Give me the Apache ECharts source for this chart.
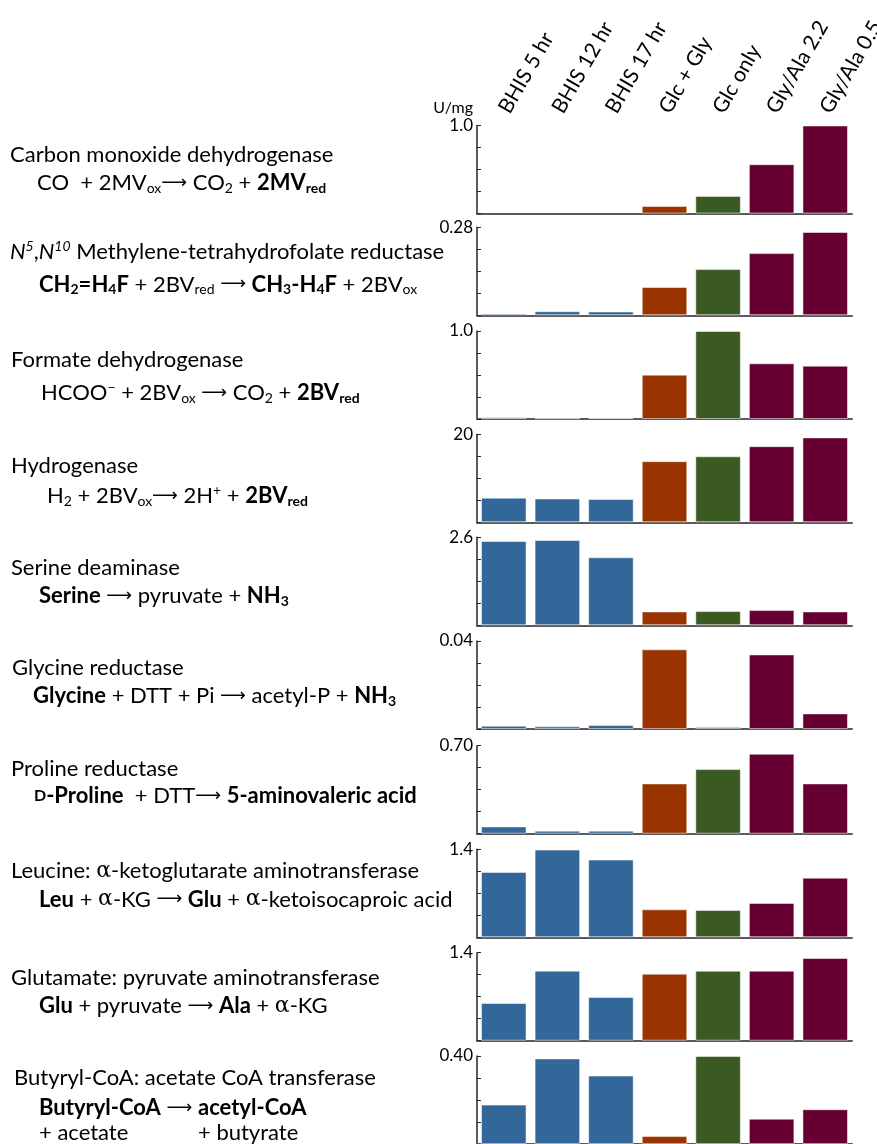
<!DOCTYPE html>
<html><head><meta charset="utf-8">
<script src="https://cdn.jsdelivr.net/npm/echarts@6/dist/echarts.min.js"></script>
<style>html,body{margin:0;padding:0;background:#fff}#c{width:877px;height:1144px}</style>
</head><body><div id="c"></div>
<script>
// ---- data ----
const categories = ['BHIS 5 hr','BHIS 12 hr','BHIS 17 hr','Glc + Gly','Glc only','Gly/Ala 2.2','Gly/Ala 0.5'];
const barColors = ['#336699','#336699','#336699','#993300','#3B5A22','#660033','#660033'];
const yMax = [1.0, 0.28, 1.0, 20, 2.6, 0.04, 0.70, 1.4, 1.4, 0.40];
const yTopLabels = ['1.0','0.28','1.0','20','2.6','0.04','0.70','1.4','1.4','0.40'];
const coDehydrogenase      = [0, 0, 0, 0.085, 0.20, 0.56, 1.0];
const mthfReductase        = [0.006, 0.013, 0.012, 0.090, 0.147, 0.198, 0.265];
const formateDehydrogenase = [0.019, 0.008, 0.011, 0.504, 1.0, 0.633, 0.606];
const hydrogenase          = [5.6, 5.4, 5.3, 13.9, 15.0, 17.3, 19.3];
const serineDeaminase      = [2.49, 2.52, 2.01, 0.41, 0.42, 0.45, 0.41];
const glycineReductase     = [0.0015, 0.0012, 0.0018, 0.0362, 0.0009, 0.0339, 0.0071];
const prolineReductase     = [0.058, 0.024, 0.024, 0.400, 0.514, 0.636, 0.400];
const leuAminotransferase  = [1.04, 1.395, 1.236, 0.445, 0.435, 0.546, 0.949];
const gluPyrAminotransferase = [0.60, 1.114, 0.695, 1.066, 1.114, 1.114, 1.315];
const butyrylCoaTransferase  = [0.179, 0.389, 0.311, 0.036, 0.40, 0.115, 0.158];
const panels = [coDehydrogenase, mthfReductase, formateDehydrogenase, hydrogenase, serineDeaminase,
  glycineReductase, prolineReductase, leuAminotransferase, gluPyrAminotransferase, butyrylCoaTransferase];

const enzymeNames = [
  'Carbon monoxide dehydrogenase',
  '{i|N}{supi|5},{i|N}{supi|10} Methylene-tetrahydrofolate reductase',
  'Formate dehydrogenase',
  'Hydrogenase',
  'Serine deaminase',
  'Glycine reductase',
  'Proline reductase',
  'Leucine: {a|α}-ketoglutarate aminotransferase',
  'Glutamate: pyruvate aminotransferase',
  'Butyryl-CoA: acetate CoA transferase'
];
const reactions = [
  'CO  + 2MV{sub|ox}{arr|⟶} CO{sub|2} + {b|2MV}{subb|red}',
  '{b|CH}{subb|2}{b|=H}{subb|4}{b|F} + 2BV{sub|red} {arr|⟶} {b|CH}{subb|3}{b|-H}{subb|4}{b|F} + 2BV{sub|ox}',
  'HCOO{sup|−} + 2BV{sub|ox} {arr|⟶} CO{sub|2} + {b|2BV}{subb|red}',
  'H{sub|2} + 2BV{sub|ox}{arr|⟶} 2H{sup|+} + {b|2BV}{subb|red}',
  '{b|Serine} {arr|⟶} pyruvate + {b|NH}{subb|3}',
  '{b|Glycine} + DTT + Pi {arr|⟶} acetyl-P + {b|NH}{subb|3}',
  '{sc|D}{b|-Proline}  + DTT{arr|⟶} {b|5-aminovaleric acid}',
  '{b|Leu} + {a|α}-KG {arr|⟶} {b|Glu} + {a|α}-ketoisocaproic acid',
  '{b|Glu} + pyruvate {arr|⟶} {b|Ala} + {a|α}-KG',
  '{b|Butyryl-CoA} {arr|⟶} {b|acetyl-CoA}'
];
const extraLeft = '+ acetate';
const extraRight = '+ butyrate';

// ---- layout ----
const FONT = 'Lato';
const tops = [125.5, 227.3, 331, 434.3, 537.3, 641, 745.7, 849.3, 952.7, 1056];
const nameBase = [161.7, 259.3, 367.3, 473.3, 575, 675, 776, 878.3, 985, 1085];
const nameX = [10, 10, 11, 11, 11, 12, 11, 11, 11, 14];
const rxBase = [190, 291.7, 400, 503.3, 603.3, 703.3, 803.3, 906.7, 1013.3, 1115];
const rxX = [37, 39, 41, 47, 39, 33, 34, 39, 39, 39];
const FS = 22;

const rich = {
  b: {fontFamily: FONT, fontSize: FS, fontWeight: 'bold', fill: '#000'},
  i: {fontFamily: FONT, fontSize: FS, fontStyle: 'italic', fill: '#000'},
  a: {fontFamily: 'DejaVu Serif', fontSize: FS, fill: '#000'},
  sub: {fontFamily: FONT, fontSize: 14, fill: '#000', padding: [10, 0, 0, 0]},
  subb: {fontFamily: FONT, fontSize: 14, fontWeight: 'bold', fill: '#000', padding: [10, 0, 0, 0]},
  sup: {fontFamily: FONT, fontSize: 14, fill: '#000', padding: [0, 0, 12, 0]},
  supi: {fontFamily: FONT, fontSize: 14, fontStyle: 'italic', fill: '#000', padding: [0, 0, 12, 0]},
  arr: {fontFamily: 'DejaVu Sans', fontSize: 18, fill: '#000'},
  sc: {fontFamily: FONT, fontSize: 16, fontWeight: 'bold', fill: '#000'}
};

function txt(text, x, base) {
  return {type: 'text', x: x, y: base - 7, silent: true,
    style: {text: text, fontFamily: FONT, fontSize: FS, fill: '#000', verticalAlign: 'middle', align: 'left', rich: rich}};
}
const graphics = [];
enzymeNames.forEach((t, i) => graphics.push(txt(t, nameX[i], nameBase[i])));
reactions.forEach((t, i) => graphics.push(txt(t, rxX[i], rxBase[i])));
graphics.push(txt(extraLeft, 39, 1140));
graphics.push(txt(extraRight, 198, 1140));

const grids = [], xAxes = [], yAxes = [], series = [];
panels.forEach((vals, i) => {
  grids.push({left: 477, width: 375, top: tops[i], height: 88, containLabel: false, outerBoundsMode: 'none'});
  xAxes.push({gridIndex: i, type: 'category', data: categories, position: 'bottom',
    axisLine: {show: true, onZero: false, lineStyle: {color: '#5a5a5a', width: 2}},
    axisTick: {show: false}, axisLabel: {show: false}, splitLine: {show: false}});
  const mx = yMax[i];
  yAxes.push({gridIndex: i, type: 'value', min: 0, max: mx, interval: mx / 4,
    axisLine: {show: true, lineStyle: {color: '#262626', width: 1.5}},
    axisTick: {show: true, inside: true, length: 4, lineStyle: {color: '#262626', width: 1}},
    splitLine: {show: false},
    axisLabel: {margin: 4, fontFamily: FONT, fontSize: 17, color: '#000',
      formatter: (v) => (Math.abs(v - mx) < mx * 1e-6 ? yTopLabels[i] : '')},
    name: i === 0 ? 'U/mg' : '', nameLocation: 'end', nameGap: 18,
    nameTextStyle: {fontFamily: FONT, fontSize: 16, color: '#000', align: 'right', verticalAlign: 'middle', padding: [0, 4, 0, 0]}
  });
  series.push({type: 'bar', xAxisIndex: i, yAxisIndex: i, barCategoryGap: '15%', silent: true,
    data: vals.map((v, j) => ({value: v, itemStyle: {color: barColors[j],
      borderColor: 'rgba(255,255,255,0.5)', borderWidth: v > 0 ? 1 : 0}}))});
});
xAxes.push({gridIndex: 0, type: 'category', data: categories, position: 'top',
  axisLine: {show: false}, axisTick: {show: false}, splitLine: {show: false},
  axisLabel: {rotate: 60, interval: 0, margin: 14, verticalAlign: 'middle', align: 'left',
    fontFamily: FONT, fontSize: 21, color: '#000'}});

const chart = echarts.init(document.getElementById('c'), null, {renderer: 'canvas'});
chart.setOption({
  animation: false,
  backgroundColor: '#fff',
  grid: grids, xAxis: xAxes, yAxis: yAxes, series: series,
  graphic: {elements: graphics}
});
</script></body></html>
